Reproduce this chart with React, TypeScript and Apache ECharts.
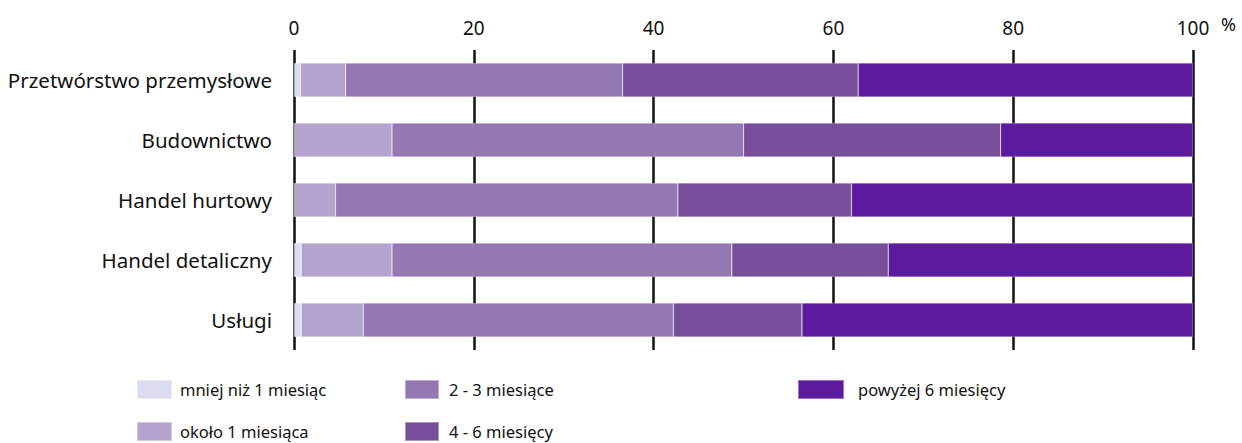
import React, { useEffect, useRef } from "react";
import * as echarts from "echarts";

const categories = [
  "Przetwórstwo przemysłowe",
  "Budownictwo",
  "Handel hurtowy",
  "Handel detaliczny",
  "Usługi",
];
const seriesNames = [
  "mniej niż 1 miesiąc",
  "około 1 miesiąca",
  "2 - 3 miesiące",
  "4 - 6 miesięcy",
  "powyżej 6 miesięcy",
];
const lessThan1 = [0.7, 0, 0, 0.8, 0.8];
const about1 = [5.05, 10.9, 4.6, 10.1, 6.9];
const m2to3 = [30.8, 39.1, 38.1, 37.8, 34.5];
const m4to6 = [26.2, 28.6, 19.3, 17.4, 14.3];
const over6 = [37.25, 21.4, 38.0, 33.9, 43.5];
const colors = ["#dcdcf0", "#b4a2cf", "#9478b4", "#764e99", "#5c1a9f"];
const xTicks = [0, 20, 40, 60, 80, 100];

const FONT = "Noto Sans";

export default function App() {
  const ref = useRef<HTMLDivElement>(null);
  useEffect(() => {
    const chart = echarts.init(ref.current!, null, { renderer: "svg" });
    const values = [lessThan1, about1, m2to3, m4to6, over6];
    const legendPos = [
      { left: 136, top: 379, w: 35, pad: 3 },
      { left: 136, top: 421, w: 35, pad: 3 },
      { left: 404, top: 379, w: 34, pad: 5 },
      { left: 404, top: 421, w: 34, pad: 5 },
      { left: 797, top: 379, w: 46, pad: 9 },
    ];
    chart.setOption({
      animation: false,
      color: colors,
      grid: { left: 294, right: 49, top: 50, bottom: 93 },
      xAxis: {
        type: "value",
        position: "top",
        min: xTicks[0],
        max: xTicks[xTicks.length - 1],
        interval: 20,
        axisLine: { show: false },
        axisTick: { show: false },
        axisLabel: { fontFamily: FONT, fontSize: 19, color: "#111", margin: 13 },
        splitLine: { show: true, lineStyle: { color: "#111", width: 2.5 } },
      },
      yAxis: {
        type: "category",
        data: categories,
        inverse: true,
        axisLine: { show: false },
        axisTick: { show: false },
        axisLabel: { fontFamily: FONT, fontSize: 20.5, color: "#111", margin: 22 },
      },
      legend: seriesNames.map((name, i) => ({
        left: legendPos[i].left,
        top: legendPos[i].top,
        padding: 0,
        itemWidth: legendPos[i].w,
        itemHeight: 19,
        icon: "rect",
        selectedMode: false,
        textStyle: {
          fontFamily: FONT,
          fontSize: 16.5,
          color: "#111",
          padding: [0, 0, 0, legendPos[i].pad],
        },
        data: [name],
      })),
      graphic: [
        {
          type: "text",
          left: 1221,
          top: 15,
          style: { text: "%", font: `18px "${FONT}"`, fill: "#111" },
        },
      ],
      series: seriesNames.map((name, i) => ({
        name,
        type: "bar",
        stack: "total",
        barWidth: 34,
        data: values[i],
        itemStyle: { color: colors[i], borderColor: "rgba(255,255,255,0.4)", borderWidth: 0.6 },
      })),
    });
    return () => chart.dispose();
  }, []);
  return <div ref={ref} style={{ width: 1242, height: 443, position: "absolute", left: 0, top: 0 }} />;
}
